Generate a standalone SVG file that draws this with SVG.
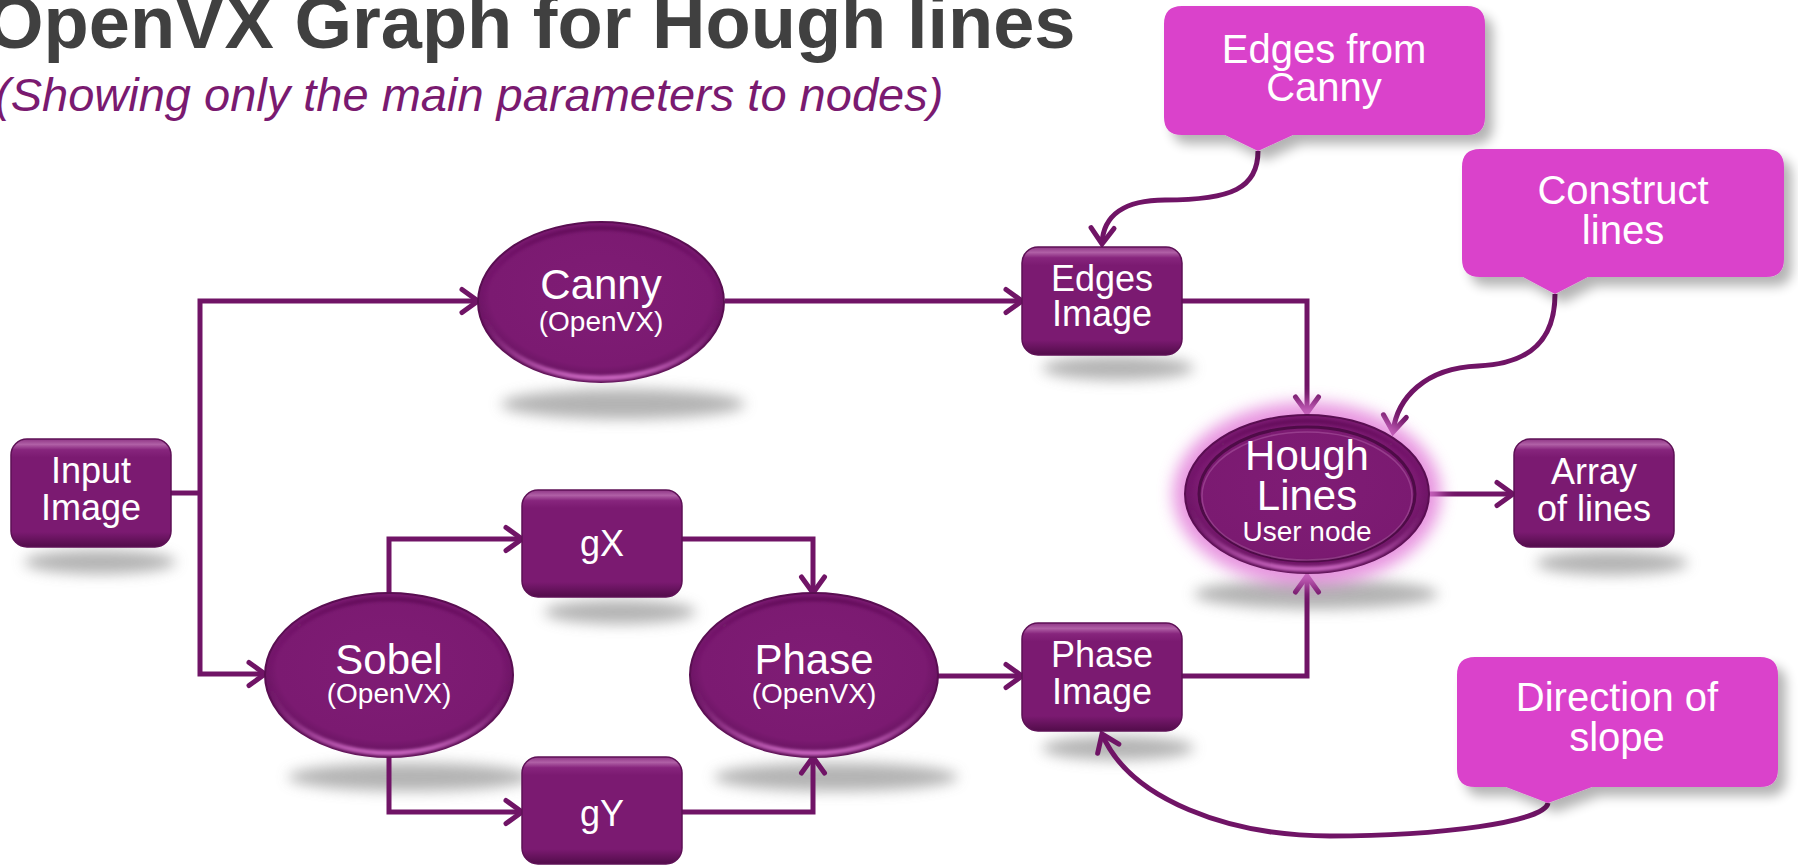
<svg xmlns="http://www.w3.org/2000/svg" width="1798" height="867" viewBox="0 0 1798 867">
<defs>
  <style>
    .title{font-family:"Liberation Sans",Arial,sans-serif;font-weight:bold;font-size:74px;fill:#404040}
    .sub{font-family:"Liberation Sans",Arial,sans-serif;font-style:italic;font-size:47px;fill:#7a1a70}
    .t{font-family:"Liberation Sans",Arial,sans-serif;fill:#ffffff;text-anchor:middle}
    .t36{font-size:36px}
    .t42{font-size:42px}
    .t28{font-size:28px}
    .t40{font-size:40px}
    .box{fill:url(#boxG);stroke:#5e1056;stroke-width:1.5}
    .ell{fill:url(#ellG);stroke:#5a0e52;stroke-width:2}
    .rim{fill:none;stroke:url(#rimG);stroke-width:5}
    .shadow{fill:#9a9a9a;opacity:0.75;filter:url(#blur)}
    .callout{fill:#da43cb;filter:url(#callSh)}
    .conn{fill:none;stroke:#701466;stroke-width:5;stroke-linejoin:miter}
    .arr{marker-end:url(#arr)}
  </style>
  <linearGradient id="boxG" x1="0" y1="0" x2="0" y2="1">
    <stop offset="0" stop-color="#8e3585"/>
    <stop offset="0.05" stop-color="#b060a6"/>
    <stop offset="0.1" stop-color="#87257d"/>
    <stop offset="0.17" stop-color="#7b1a71"/>
    <stop offset="0.86" stop-color="#7b1a71"/>
    <stop offset="1" stop-color="#520c4a"/>
  </linearGradient>
  <radialGradient id="ellG" cx="0.5" cy="0.45" r="0.55">
    <stop offset="0" stop-color="#7f1c75"/>
    <stop offset="0.82" stop-color="#7b1a71"/>
    <stop offset="1" stop-color="#60115a"/>
  </radialGradient>
  <linearGradient id="rimG" x1="0" y1="0" x2="0" y2="1">
    <stop offset="0" stop-color="#4e0b47" stop-opacity="0.5"/>
    <stop offset="0.55" stop-color="#7b1a71" stop-opacity="0"/>
    <stop offset="1" stop-color="#d46fca" stop-opacity="0.9"/>
  </linearGradient>
  <filter id="blur" x="-30%" y="-150%" width="160%" height="400%">
    <feGaussianBlur stdDeviation="7"/>
  </filter>
  <filter id="glow" x="-30%" y="-30%" width="160%" height="160%">
    <feGaussianBlur stdDeviation="8"/>
  </filter>
  <filter id="soft" x="-10%" y="-10%" width="120%" height="120%">
    <feGaussianBlur stdDeviation="1.5"/>
  </filter>
  <filter id="callSh" x="-10%" y="-15%" width="130%" height="150%">
    <feGaussianBlur in="SourceAlpha" stdDeviation="6"/>
    <feOffset dx="8" dy="9"/>
    <feComponentTransfer><feFuncA type="linear" slope="0.3"/></feComponentTransfer>
    <feMerge><feMergeNode/><feMergeNode in="SourceGraphic"/></feMerge>
  </filter>
  <marker id="arr" markerUnits="userSpaceOnUse" markerWidth="30" markerHeight="30" viewBox="0 0 30 30" refX="25" refY="15" orient="auto">
    <path d="M9,3.5 L25,15 L9,26.5" fill="none" stroke="#701466" stroke-width="5" stroke-linecap="round" stroke-linejoin="miter"/>
  </marker>
</defs>

<rect width="1798" height="867" fill="#ffffff"/>

<g id="title">
  <text class="title" x="-14" y="48">OpenVX Graph for Hough lines</text>
  <text class="sub" x="-5" y="111">(Showing only the main parameters to nodes)</text>
</g>

<g id="shadows">
  <ellipse class="shadow" cx="100" cy="562" rx="76" ry="12"/>
  <ellipse class="shadow" cx="623" cy="404" rx="122" ry="15"/>
  <ellipse class="shadow" cx="410" cy="777" rx="122" ry="14"/>
  <ellipse class="shadow" cx="836" cy="777" rx="122" ry="14"/>
  <ellipse class="shadow" cx="1316" cy="594" rx="122" ry="15"/>
  <ellipse class="shadow" cx="620" cy="612" rx="76" ry="12"/>
  <ellipse class="shadow" cx="1118" cy="368" rx="76" ry="12"/>
  <ellipse class="shadow" cx="1118" cy="748" rx="76" ry="12"/>
  <ellipse class="shadow" cx="1612" cy="563" rx="76" ry="12"/>
</g>

<g id="connectors">
  <path class="conn" d="M170,493 H200"/>
  <path class="conn arr" d="M200,493 V301 H478"/>
  <path class="conn arr" d="M200,493 V674 H265"/>
  <path class="conn arr" d="M725,301 H1022"/>
  <path class="conn arr" d="M389,593 V539 H522"/>
  <path class="conn arr" d="M389,757 V812 H522"/>
  <path class="conn arr" d="M681,539 H813 V593"/>
  <path class="conn arr" d="M681,812 H813 V757"/>
  <path class="conn arr" d="M938,676 H1022"/>
  <path class="conn arr" d="M1182,301 H1307 V413"/>
  <path class="conn arr" d="M1182,676 H1307 V576"/>
  <path class="conn arr" d="M1429,494 H1513"/>
  <path class="conn arr" d="M1258,151 C1258,188 1232,200 1165,200 C1125,200 1103,215 1102,244"/>
  <path class="conn arr" d="M1555,294 C1555,340 1530,364 1478,366 C1425,368 1397,398 1393,432"/>
  <path class="conn arr" d="M1548,803 C1545,822 1440,836 1330,836 C1230,836 1130,800 1102,734"/>
</g>

<g id="input-image">
  <rect class="box" x="11" y="439" width="160" height="108" rx="16"/>
  <text class="t t36" x="91" y="483">Input</text>
  <text class="t t36" x="91" y="520">Image</text>
</g>

<g id="canny">
  <ellipse class="ell" cx="601" cy="302" rx="123" ry="80"/>
  <ellipse class="rim" cx="601" cy="303" rx="118" ry="75" filter="url(#soft)"/>
  <text class="t t42" x="601" y="299">Canny</text>
  <text class="t t28" x="601" y="331">(OpenVX)</text>
</g>

<g id="edges-image">
  <rect class="box" x="1022" y="247" width="160" height="108" rx="16"/>
  <text class="t t36" x="1102" y="291">Edges</text>
  <text class="t t36" x="1102" y="326">Image</text>
</g>

<g id="hough-lines">
  <ellipse cx="1307" cy="494" rx="134" ry="92" fill="#e27ad8" opacity="0.8" filter="url(#glow)"/>
  <ellipse class="ell" cx="1307" cy="494" rx="122" ry="79"/>
  <ellipse class="rim" cx="1307" cy="495" rx="117" ry="74" filter="url(#soft)"/>
  <ellipse cx="1307" cy="494" rx="108" ry="67" fill="none" stroke="#4e0b47" stroke-width="3"/>
  <ellipse cx="1307" cy="496" rx="105" ry="64" fill="none" stroke="#9c4592" stroke-width="1.5" opacity="0.8"/>
  <text class="t t42" x="1307" y="470">Hough</text>
  <text class="t t42" x="1307" y="510">Lines</text>
  <text class="t t28" x="1307" y="541">User node</text>
</g>

<g id="array-of-lines">
  <rect class="box" x="1514" y="439" width="160" height="108" rx="16"/>
  <text class="t t36" x="1594" y="484">Array</text>
  <text class="t t36" x="1594" y="521">of lines</text>
</g>

<g id="sobel">
  <ellipse class="ell" cx="389" cy="675" rx="124" ry="82"/>
  <ellipse class="rim" cx="389" cy="676" rx="119" ry="77" filter="url(#soft)"/>
  <text class="t t42" x="389" y="674">Sobel</text>
  <text class="t t28" x="389" y="703">(OpenVX)</text>
</g>

<g id="gx">
  <rect class="box" x="522" y="490" width="160" height="107" rx="16"/>
  <text class="t t36" x="602" y="556">gX</text>
</g>

<g id="gy">
  <rect class="box" x="522" y="757" width="160" height="107" rx="16"/>
  <text class="t t36" x="602" y="826">gY</text>
</g>

<g id="phase">
  <ellipse class="ell" cx="814" cy="675" rx="124" ry="82"/>
  <ellipse class="rim" cx="814" cy="676" rx="119" ry="77" filter="url(#soft)"/>
  <text class="t t42" x="814" y="674">Phase</text>
  <text class="t t28" x="814" y="703">(OpenVX)</text>
</g>

<g id="phase-image">
  <rect class="box" x="1022" y="623" width="160" height="108" rx="16"/>
  <text class="t t36" x="1102" y="667">Phase</text>
  <text class="t t36" x="1102" y="704">Image</text>
</g>

<g id="callout-edges">
  <path class="callout" d="M1182,6 H1467 Q1485,6 1485,24 V117 Q1485,135 1467,135 H1293 L1258,151 L1225,135 H1182 Q1164,135 1164,117 V24 Q1164,6 1182,6 Z"/>
  <text class="t t40" x="1324" y="63">Edges from</text>
  <text class="t t40" x="1324" y="101">Canny</text>
</g>

<g id="callout-construct">
  <path class="callout" d="M1480,149 H1766 Q1784,149 1784,167 V259 Q1784,277 1766,277 H1588 L1555,294 L1523,277 H1480 Q1462,277 1462,259 V167 Q1462,149 1480,149 Z"/>
  <text class="t t40" x="1623" y="204">Construct</text>
  <text class="t t40" x="1623" y="244">lines</text>
</g>

<g id="callout-direction">
  <path class="callout" d="M1475,657 H1760 Q1778,657 1778,675 V769 Q1778,787 1760,787 H1592 L1548,803 L1506,787 H1475 Q1457,787 1457,769 V675 Q1457,657 1475,657 Z"/>
  <text class="t t40" x="1617" y="711">Direction of</text>
  <text class="t t40" x="1617" y="751">slope</text>
</g>
</svg>
